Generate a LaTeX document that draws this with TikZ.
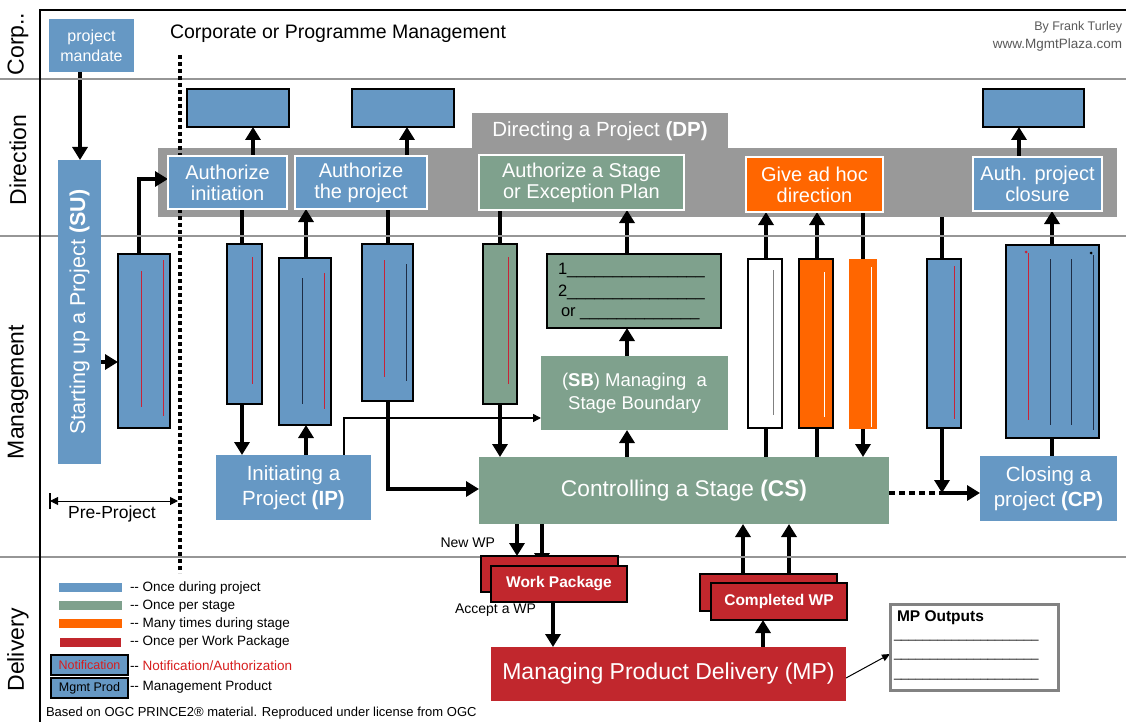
\documentclass[tikz,border=0pt]{standalone}
\usepackage{fontspec}
\setmainfont{Liberation Sans}
\usetikzlibrary{arrows.meta}
\definecolor{pblue}{RGB}{102,152,196}
\definecolor{pgreen}{RGB}{127,161,141}
\definecolor{porange}{RGB}{255,102,0}
\definecolor{pred}{RGB}{193,39,45}
\definecolor{pgray}{RGB}{153,153,153}
\definecolor{lanegray}{RGB}{150,150,150}
\definecolor{txtgray}{RGB}{90,90,90}
\definecolor{legred}{RGB}{215,30,30}
\definecolor{docred}{RGB}{200,35,55}
\definecolor{docdark}{RGB}{30,45,70}
\definecolor{outgray}{RGB}{130,130,130}
\pgfdeclarelayer{back}\pgfdeclarelayer{mid}\pgfsetlayers{back,mid,main}
\newcommand{\fsz}[2]{\fontsize{#1}{#2}\selectfont}
\begin{document}
\begin{tikzpicture}[x=1pt,y=-1pt,
  box/.style={inner sep=0pt,outer sep=0pt,rectangle,align=center,text=white},
  dpb/.style={box,draw=white,line width=2pt,font=\fsz{20}{21}},
  doc/.style={inner sep=0pt,outer sep=0pt,rectangle,draw=black,line width=2.6pt},
  arr/.style={line width=4pt,-{Triangle[length=13pt,width=15pt]}},
  ln/.style={line width=4pt},
  thinarr/.style={line width=1.5pt,-{Triangle[length=8pt,width=8pt]}},
  lane/.style={font=\fsz{23}{26},rotate=90,inner sep=0pt},
  plain/.style={inner sep=0pt,outer sep=0pt},
  legbar/.style={inner sep=0pt,outer sep=0pt,rectangle,minimum width=63pt,minimum height=9pt},
  legtxt/.style={plain,anchor=west,font=\fsz{13.5}{16}},
  legbox/.style={box,fill=pblue,draw=black,line width=2.2pt,minimum width=77pt,minimum height=20pt,font=\fsz{12.5}{15}},
  wpbox/.style={box,fill=pred,draw=black,line width=1.4pt,minimum width=136pt,minimum height=36pt,font=\bfseries\fsz{15.5}{17}},
  inl/.style={line width=1pt}
]
\useasboundingbox (0,0) rectangle (1126,722);
\begin{pgfonlayer}{back}
\fill[white] (0,0) rectangle (1126,722);
\end{pgfonlayer}

% lanes and frame
\draw[lanegray,line width=2pt] (0,79) -- (1126,79);
\draw[lanegray,line width=2pt] (0,236) -- (1126,236);
\draw[lanegray,line width=2pt] (0,557) -- (1126,557);
\draw[black,line width=2.5pt] (40,722) -- (40,10) -- (1126,10);
\node[lane] (lcorp) at (18,44) {Corp..};
\node[lane] (ldir) at (18,160) {Direction};
\node[lane] (lman) at (18,392) {Management};
\node[lane] (ldel) at (18,650) {Delivery};

% top texts
\node[plain,anchor=west,font=\fsz{19.5}{22}] (corp) at (170,34) {Corporate or Programme Management};
\node[plain,anchor=east,font=\fsz{12.5}{16},text=txtgray] (by) at (1122,27) {By Frank Turley};
\node[plain,anchor=east,font=\fsz{13.5}{16},text=txtgray] (www) at (1122,45) {www.MgmtPlaza.com};

% dotted line
\draw[line width=4pt,dash pattern=on 4pt off 3pt] (180,55) -- (180,573);

% pre-project
\coordinate (pp1) at (50,501);
\coordinate (pp2) at (178,501);
\draw[line width=1pt,{Triangle[length=8pt,width=8pt]}-{Triangle[length=8pt,width=8pt]}] (pp1) -- (pp2);
\draw[line width=1.5pt] ([yshift=-8pt]pp1) -- ([yshift=8pt]pp1);
\node[plain,font=\fsz{17.5}{20}] (pre) at (112,514) {Pre-Project};

% mandate and SU
\node[box,fill=pblue,minimum width=85pt,minimum height=53pt,font=\fsz{16}{20}] (mandate) at (91.5,45.5) {project\\mandate};
\node[box,fill=pblue,rotate=90,minimum width=304pt,minimum height=43pt,font=\fsz{21.5}{24}] (SU) at (79.5,312) {Starting up a Project \textbf{(SU)}};
\node[doc,fill=pblue,minimum width=52pt,minimum height=174pt] (sudoc) at (144,341) {};
\draw[docred,inl] (141,271) -- (141,407);
\draw[docred,inl] (163,260) -- (163,416);

% DP
\begin{pgfonlayer}{back}
\node[box,fill=pgray,minimum width=959pt,minimum height=69pt] (DP) at (637.5,182.5) {};
\node[box,fill=pgray,minimum width=256pt,minimum height=36pt,font=\fsz{20.5}{22}] (DPtab) at (600,131) {Directing a Project \textbf{(DP)}};
\end{pgfonlayer}
\node[dpb,fill=pblue,minimum width=119pt,minimum height=53pt] (authinit) at (227.5,182.5) {Authorize\\initiation};
\node[dpb,fill=pblue,minimum width=132pt,minimum height=53pt] (authproj) at (361,182.5) {Authorize\\the project};
\node[dpb,fill=pgreen,minimum width=205pt,minimum height=55pt] (authstage) at (581.5,182.5) {Authorize a Stage\\or Exception Plan};
\node[dpb,fill=porange,minimum width=137pt,minimum height=55pt] (adhoc) at (814.5,184.5) {Give ad hoc\\direction};
\node[dpb,fill=pblue,minimum width=129pt,minimum height=54pt] (closure) at (1037.5,184) {Auth. project\\closure};

% top documents
\node[doc,fill=pblue,minimum width=102pt,minimum height=38pt] (td1) at (238,108) {};
\node[doc,fill=pblue,minimum width=102pt,minimum height=38pt] (td2) at (403,108) {};
\node[doc,fill=pblue,minimum width=101pt,minimum height=38pt] (td3) at (1033.5,108) {};

% management documents
\node[doc,fill=pblue,minimum width=35pt,minimum height=160pt] (c1) at (244.5,324) {};
\node[doc,fill=pblue,minimum width=52pt,minimum height=167pt] (c2) at (305,341.5) {};
\node[doc,fill=pblue,minimum width=51pt,minimum height=157pt] (c3) at (387.5,322.5) {};
\node[doc,fill=pgreen,minimum width=34pt,minimum height=160pt] (c4) at (500,324) {};
\node[doc,fill=pgreen,minimum width=174pt,minimum height=74pt] (plan) at (634,291) {};
\node[plain,anchor=west,font=\fsz{16.5}{18}] (pl1) at (558,270) {1\_\_\_\_\_\_\_\_\_\_\_\_\_\_\_};
\node[plain,anchor=west,font=\fsz{16.5}{18}] (pl2) at (558,292) {2\_\_\_\_\_\_\_\_\_\_\_\_\_\_\_};
\node[plain,anchor=west,font=\fsz{16.5}{18}] (pl3) at (561,314) {or \_\_\_\_\_\_\_\_\_\_\_\_\_};
\node[doc,fill=white,minimum width=34pt,minimum height=169pt] (c8) at (765,343.5) {};
\node[doc,fill=porange,minimum width=34pt,minimum height=169pt] (c9) at (816,343.5) {};
\node[box,fill=porange,minimum width=28pt,minimum height=170pt] (c10) at (863,344) {};
\node[doc,fill=pblue,minimum width=34pt,minimum height=169pt] (c11) at (944,343.5) {};
\node[doc,fill=pblue,minimum width=93pt,minimum height=193pt] (c12) at (1052.5,341.5) {};

\draw[docred,inl] (252,257) -- (252,384);
\draw[docdark,inl] (302,278) -- (302,404);
\draw[docred,inl] (324,273) -- (324,409);
\draw[docred,inl] (384,260) -- (384,377);
\draw[docdark,inl] (406,264) -- (406,381);
\draw[docred,inl] (508,257) -- (508,384);
\draw[gray,inl] (773.5,270) -- (773.5,415);
\draw[white,inl] (824,272) -- (824,417);
\draw[white,inl] (871,267) -- (871,427);
\draw[docred,inl] (954,266) -- (954,419);
\draw[docred,inl] (1028,253) -- (1028,420);
\fill[docred] (1026,252) circle (1.5pt);
\draw[docdark,inl] (1050,259) -- (1050,425);
\draw[docdark,inl] (1071,259) -- (1071,425);
\draw[docdark,inl] (1093,255) -- (1093,430);
\fill[black] (1091,253) circle (1.5pt);

% process boxes
\node[box,fill=pblue,minimum width=155pt,minimum height=65pt,font=\fsz{20.5}{25}] (IP) at (293.5,487.5) {Initiating a\\Project \textbf{(IP)}};
\node[box,fill=pgreen,minimum width=187pt,minimum height=74pt,font=\fsz{18.5}{23}] (SB) at (634.5,393) {(\textbf{SB}) Managing~~a\\Stage Boundary};
\node[box,fill=pgreen,minimum width=410pt,minimum height=67pt,font=\fsz{22.7}{26}] (CS) at (684,490.5) {Controlling a Stage \textbf{(CS)}};
\node[box,fill=pblue,minimum width=137pt,minimum height=65pt,font=\fsz{20.5}{25}] (CP) at (1048.5,488.5) {Closing a\\project \textbf{(CP)}};
\coordinate (j) at (942,493);

% delivery
\node[plain,anchor=east,font=\fsz{14}{15}] (newwp) at (495,543) {New WP};
\node[wpbox,minimum width=137pt] (wpback) at (549.5,574) {};
\node[wpbox] (wpfront) at (559,584) {Work Package};
\node[plain,anchor=east,font=\fsz{14}{15}] (accept) at (536,610) {Accept a WP};
\node[wpbox,minimum width=137pt,minimum height=37pt] (cwpback) at (768.5,592.5) {};
\node[wpbox,minimum height=37pt] (cwpfront) at (779,601.5) {Completed WP};
\node[box,fill=pred,minimum width=355pt,minimum height=54pt,font=\fsz{23}{26}] (MP) at (668.5,674) {Managing Product Delivery (MP)};
\node[box,fill=white,draw=outgray,line width=3pt,minimum width=168pt,minimum height=86pt] (mpout) at (974,647) {};
\node[plain,anchor=west,font=\bfseries\fsz{15.5}{16}] (mpt) at (897,618) {MP Outputs};
\node[plain,anchor=west,font=\fsz{13}{15}] (mpl1) at (894,640) {\_\_\_\_\_\_\_\_\_\_\_\_\_\_\_\_\_\_\_\_};
\node[plain,anchor=west,font=\fsz{13}{15}] (mpl2) at (894,659) {\_\_\_\_\_\_\_\_\_\_\_\_\_\_\_\_\_\_\_\_};
\node[plain,anchor=west,font=\fsz{13}{15}] (mpl3) at (894,679) {\_\_\_\_\_\_\_\_\_\_\_\_\_\_\_\_\_\_\_\_};

% legend
\node[legbar,fill=pblue] (lgb) at (90.5,587.5) {};
\node[legtxt] (lgbt) at (130,588) {-{}- Once during project};
\node[legbar,fill=pgreen] (lgg) at (90.5,605.5) {};
\node[legtxt] (lggt) at (130,606) {-{}- Once per stage};
\node[legbar,fill=porange] (lgo) at (90.5,623.5) {};
\node[legtxt] (lgot) at (130,624) {-{}- Many times during stage};
\node[legbar,fill=pred,minimum width=61pt] (lgr) at (90.5,642.5) {};
\node[legtxt] (lgrt) at (130,642) {-{}- Once per Work Package};
\node[legbox,text=legred] (lgn) at (89.5,665) {Notification};
\node[legtxt] (lgnt) at (130,666) {-{}- \textcolor{legred}{Notification/Authorization}};
\node[legbox,text=black] (lgm) at (89.5,688) {Mgmt Prod};
\node[legtxt] (lgmt) at (130,687) {-{}- Management Product};
\node[plain,anchor=west,font=\fsz{13}{15}] (foot) at (46,713) {Based on OGC PRINCE2® material. Reproduced under license from OGC};

% connectors
\begin{pgfonlayer}{mid}
\draw[arr] (mandate.south -| 80,0) -- (SU.east -| 80,0);
\draw[arr] (SU.south |- 0,362) -- (sudoc.west |- 0,362);
\draw[arr] (sudoc.north -| 139,0) |- (authinit.west |- 0,179);
\draw[arr] (authinit.north -| 253,0) -- (td1.south -| 253,0);
\draw[arr] (authproj.north -| 407,0) -- (td2.south -| 407,0);
\draw[arr] (closure.north -| 1019,0) -- (td3.south -| 1019,0);
\draw[ln] (authinit.south -| 242,0) -- (c1.north -| 242,0);
\draw[arr] (c1.south -| 242,0) -- (IP.north -| 242,0);
\draw[arr] (IP.north -| 306,0) -- (c2.south -| 306,0);
\draw[arr] (c2.north -| 306,0) -- (authproj.south -| 306,0);
\draw[ln] (authproj.south -| 388,0) -- (c3.north -| 388,0);
\draw[arr] (c3.south -| 388,0) |- (CS.west |- 0,489);
\draw[ln] (authstage.south -| 500,0) -- (c4.north -| 500,0);
\draw[arr] (c4.south -| 500,0) -- (CS.north -| 500,0);
\draw[thinarr] (IP.north -| 344,0) |- (SB.west |- 0,418);
\draw[arr] (plan.north -| 627,0) -- (authstage.south -| 627,0);
\draw[arr] (SB.north -| 627,0) -- (plan.south -| 627,0);
\draw[arr] (CS.north -| 627,0) -- (SB.south -| 627,0);
\draw[ln] (CS.north -| 766,0) -- (c8.south -| 766,0);
\draw[arr] (c8.north -| 766,0) -- (adhoc.south -| 766,0);
\draw[ln] (CS.north -| 817,0) -- (c9.south -| 817,0);
\draw[arr] (c9.north -| 817,0) -- (adhoc.south -| 817,0);
\draw[ln] (adhoc.south -| 863,0) -- (c10.north -| 863,0);
\draw[arr] (c10.south -| 863,0) -- (CS.north -| 863,0);
\draw[ln] (DP.south -| 942,0) -- (c11.north -| 942,0);
\draw[arr] (c11.south -| 942,0) -- (j);
\draw[line width=4pt,dash pattern=on 6pt off 4pt] (CS.east |- j) -- (j);
\draw[arr] (j) -- (CP.west |- j);
\draw[ln] (CP.north -| 1052,0) -- (c12.south -| 1052,0);
\draw[arr] (c12.north -| 1052,0) -- (closure.south -| 1052,0);
\draw[arr] (CS.south -| 517,0) -- (wpback.north -| 517,0);
\draw[arr] (CS.south -| 542,0) -- (wpfront.north -| 542,0);
\draw[arr] (wpfront.south -| 553,0) -- (MP.north -| 553,0);
\draw[arr] (MP.north -| 763,0) -- (cwpfront.south -| 763,0);
\draw[arr] (cwpback.north -| 743,0) -- (CS.south -| 743,0);
\draw[arr] (cwpback.north -| 789,0) -- (CS.south -| 789,0);
\draw[line width=1pt,-{Triangle[length=8pt,width=7pt]}] (MP.east |- 0,678) -- (mpout.west |- 0,654);
\end{pgfonlayer}
\end{tikzpicture}
\end{document}
